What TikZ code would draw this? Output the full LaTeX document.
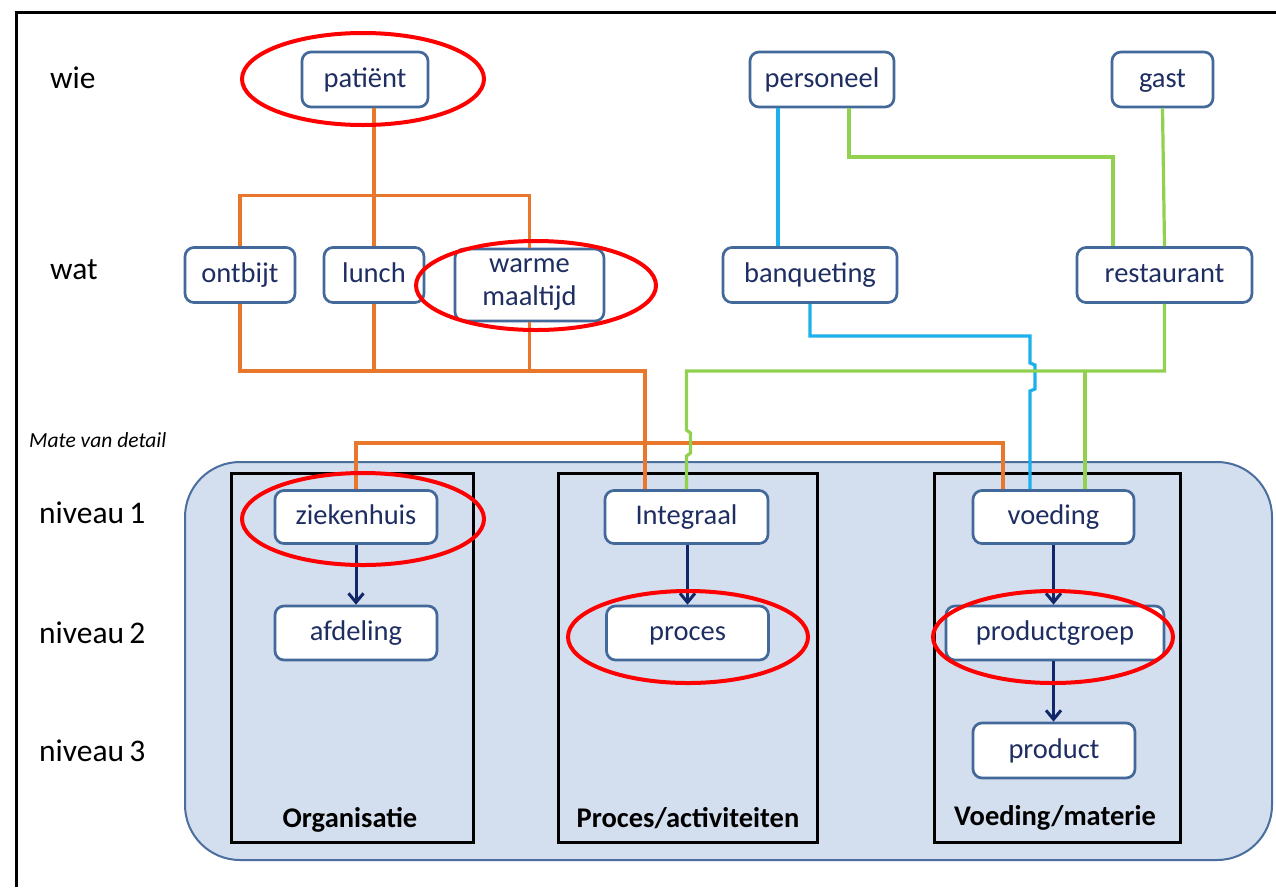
\documentclass[tikz,border=0pt]{standalone}
\usepackage{fontspec}
\setmainfont{Carlito}
\usetikzlibrary{arrows.meta,calc}
\definecolor{boxblue}{HTML}{43689A}
\definecolor{navytext}{HTML}{1F2E62}
\definecolor{bgfill}{HTML}{D3DEEE}
\definecolor{bgdraw}{HTML}{4A6E9E}
\definecolor{lorange}{HTML}{E8762B}
\definecolor{lblue}{HTML}{1CB0EC}
\definecolor{lgreen}{HTML}{92D050}
\definecolor{arrnavy}{HTML}{12266A}
\definecolor{mark}{HTML}{FF0000}
\begin{document}
\begin{tikzpicture}[x=1pt,y=-1pt,
  box/.style={draw=boxblue, line width=2.7, rounded corners=9, fill=white, text=navytext,
    inner sep=0, font=\fontsize{28.5}{33}\selectfont, align=center},
  onebox/.style={box, text height=21, text depth=5.6},
  rowlabel/.style={anchor=west, inner sep=0, font=\fontsize{31.5}{36}\selectfont, text=black},
  colbox/.style={draw=black, line width=3, inner sep=0},
  collabel/.style={inner sep=0, font=\fontsize{28.5}{33}\selectfont\bfseries, text=black},
  bgbox/.style={draw=bgdraw, line width=2, fill=bgfill, rounded corners=55, inner sep=0},
  oline/.style={draw=lorange, line width=3.2},
  bline/.style={draw=lblue, line width=3.2},
  gline/.style={draw=lgreen, line width=3.2},
  arr/.style={draw=arrnavy, line width=3, -{Straight Barb[length=9pt,width=15pt]}},
  redmark/.style={draw=mark, line width=4}
]
\useasboundingbox (0,0) rectangle (1276,887);
\fill[white] (0,0) rectangle (1276,887);
\draw[line width=3] (16,887) -- (16,12) -- (1276,12);

% background and columns
\node[bgbox, minimum width=1087, minimum height=398] (bg) at (728.5,661) {};
\node[colbox, minimum width=242, minimum height=369] (colorg) at (352,657.5) {};
\node[colbox, minimum width=259, minimum height=369] (colproc) at (687.5,657.5) {};
\node[colbox, minimum width=246, minimum height=369] (colvoed) at (1057,657.5) {};
\node[collabel] (lorg) at (350,820) {Organisatie};
\node[collabel] (lproc) at (688,818) {Proces/activiteiten};
\node[collabel] (lvoed) at (1055,818) {Voeding/materie};

% row labels
\node[rowlabel] (rwie) at (50,78) {wie};
\node[rowlabel] (rwat) at (50,270) {wat};
\node[anchor=west, inner sep=0, font=\fontsize{21.5}{24}\selectfont\itshape] (rmate) at (29,440) {Mate van detail};
\node[rowlabel] (rn1) at (39,513) {niveau\,1};
\node[rowlabel] (rn2) at (39,633) {niveau\,2};
\node[rowlabel] (rn3) at (39,751) {niveau\,3};

% boxes
\node[onebox, minimum width=126, minimum height=55] (patient) at (365,79.5) {patiënt};
\node[onebox, minimum width=144, minimum height=55] (personeel) at (822,79.5) {personeel};
\node[onebox, minimum width=101, minimum height=55] (gast) at (1162.5,79.5) {gast};
\node[onebox, minimum width=110, minimum height=55] (ontbijt) at (240,275) {ontbijt};
\node[onebox, minimum width=100, minimum height=55] (lunch) at (374,275) {lunch};
\node[box, minimum width=149, minimum height=72] (warme) at (529.5,285) {warme\\maaltijd};
\node[onebox, minimum width=174, minimum height=55] (banqueting) at (810,275) {banqueting};
\node[onebox, minimum width=175, minimum height=55] (restaurant) at (1164.5,275) {restaurant};
\node[onebox, minimum width=162, minimum height=53] (ziekenhuis) at (356,517) {ziekenhuis};
\node[onebox, minimum width=162, minimum height=54] (afdeling) at (356,633) {afdeling};
\node[onebox, minimum width=163, minimum height=53] (integraal) at (686.5,517) {Integraal};
\node[onebox, minimum width=162, minimum height=54] (proces) at (687.5,633) {proces};
\node[onebox, minimum width=161, minimum height=53] (voeding) at (1053.5,517) {voeding};
\node[onebox, minimum width=218, minimum height=54] (productgroep) at (1055,633) {productgroep};
\node[onebox, minimum width=162, minimum height=55] (product) at (1054,750.5) {product};

% coordinates for connector ends
\coordinate (ig1) at ($(integraal.north)+(-41.5,0)$);
\coordinate (vo1) at ($(voeding.north)+(-50.5,0)$);
\coordinate (vo2) at ($(voeding.north)+(-23.5,0)$);
\coordinate (vo3) at ($(voeding.north)+(31.5,0)$);
\coordinate (pe1) at ($(personeel.south)+(-44,0)$);
\coordinate (pe2) at ($(personeel.south)+(27,0)$);
\coordinate (re1) at ($(restaurant.north)+(-51.5,0)$);

% orange connectors
\draw[oline] (lunch.north |- patient.south) -- (lunch.north);
\draw[oline] (ontbijt.north) -- ++(0,-51) -| (warme.north);
\draw[oline] (ontbijt.south) -- (ontbijt.south |- 0,371) -| (ig1);
\draw[oline] (lunch.south) -- (lunch.south |- 0,371);
\draw[oline] (warme.south) -- (warme.south |- 0,371);
\draw[oline] (ziekenhuis.north) -- (ziekenhuis.north |- 0,443) -| (vo1);

% blue connectors
\draw[bline] (pe1) -- (pe1 |- banqueting.north);
\draw[bline] (banqueting.south) -- (banqueting.south |- 0,336) -| ($(vo2 |- 0,363)$)
  -- ++(5,2) -- ++(0,24) -- ++(-5,2) -- (vo2);

% green connectors
\draw[gline] (pe2) -- (pe2 |- 0,157) -| (re1);
\draw[gline] (gast.south) -- (restaurant.north);
\draw[gline] (restaurant.south) -- (restaurant.south |- 0,371) -- (integraal.north |- 0,371)
  -- ++(0,59) -- ++(4,3) -- ++(0,20) -- ++(-4,3) -- (integraal.north);
\draw[gline] (vo3 |- 0,371) -- (vo3);

% navy arrows
\draw[arr] (ziekenhuis.south) -- (afdeling.north);
\draw[arr] (integraal.south -| proces.north) -- (proces.north);
\draw[arr] (voeding.south) -- (voeding.south |- productgroep.north);
\draw[arr] (voeding.south |- productgroep.south) -- (voeding.south |- product.north);

% red markings
\draw[redmark] (363,79) ellipse [x radius=121, y radius=46];
\draw[redmark] (536,285.5) ellipse [x radius=120, y radius=44.5];
\draw[redmark] (363,519) ellipse [x radius=121, y radius=46];
\draw[redmark] (688,637) ellipse [x radius=120, y radius=46];
\draw[redmark] (1053,637) ellipse [x radius=120, y radius=46];
\end{tikzpicture}
\end{document}
